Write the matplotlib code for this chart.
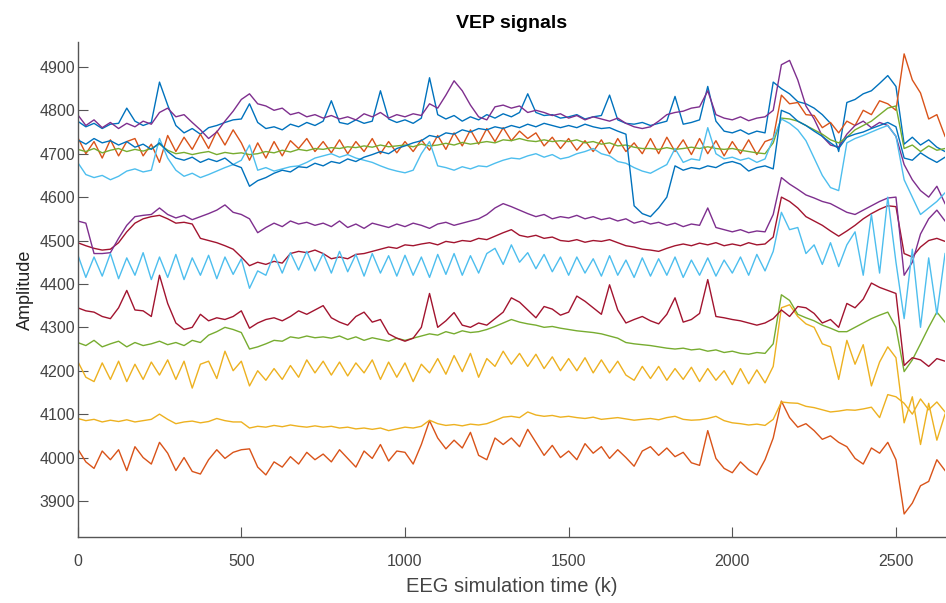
import matplotlib.pyplot as plt
import numpy as np

# sample times (k), every 25 steps from 0 to 2650
t = np.arange(0, 2651, 25)

blue_a = [4775, 4762, 4770, 4758, 4768, 4770, 4805, 4775, 4765, 4772,
          4865, 4812, 4765, 4748, 4758, 4745, 4760, 4765, 4772, 4778,
          4780, 4815, 4772, 4758, 4762, 4755, 4768, 4762, 4772, 4765,
          4775, 4822, 4772, 4768, 4778, 4770, 4775, 4845, 4780, 4772,
          4778, 4770, 4782, 4875, 4790, 4780, 4788, 4775, 4785, 4778,
          4790, 4782, 4792, 4785, 4795, 4838, 4795, 4788, 4790, 4782,
          4785, 4790, 4780, 4785, 4788, 4835, 4778, 4770, 4768, 4772,
          4765, 4770, 4775, 4832, 4768, 4772, 4778, 4855, 4775, 4752,
          4748, 4755, 4745, 4752, 4748, 4865, 4850, 4838, 4820, 4815,
          4805, 4790, 4770, 4705, 4818, 4825, 4838, 4845, 4862, 4880,
          4855, 4722, 4738, 4720, 4732, 4715, 4705]
orange_a = [4738, 4700, 4728, 4690, 4732, 4695, 4728, 4735, 4695, 4722,
            4680, 4742, 4705, 4738, 4710, 4745, 4712, 4752, 4720, 4755,
            4725, 4685, 4725, 4690, 4728, 4695, 4730, 4712, 4735, 4705,
            4728, 4702, 4732, 4700, 4728, 4705, 4735, 4700, 4728, 4702,
            4728, 4705, 4732, 4708, 4742, 4710, 4748, 4718, 4755, 4722,
            4758, 4728, 4760, 4730, 4752, 4735, 4748, 4718, 4738, 4712,
            4735, 4708, 4730, 4705, 4732, 4700, 4735, 4705, 4725, 4700,
            4735, 4700, 4738, 4705, 4732, 4698, 4735, 4700, 4730, 4695,
            4728, 4700, 4732, 4698, 4728, 4735, 4835, 4815, 4818, 4790,
            4788, 4760, 4772, 4748, 4775, 4765, 4800, 4790, 4822, 4815,
            4800, 4930, 4870, 4840, 4780, 4790, 4740]
yellow_a = [4222, 4185, 4175, 4218, 4180, 4222, 4175, 4215, 4180, 4220,
            4190, 4225, 4180, 4222, 4160, 4215, 4222, 4182, 4245, 4200,
            4222, 4165, 4200, 4178, 4205, 4180, 4212, 4185, 4225, 4195,
            4222, 4190, 4220, 4188, 4218, 4195, 4225, 4180, 4220, 4185,
            4218, 4175, 4215, 4195, 4228, 4192, 4235, 4198, 4240, 4185,
            4228, 4210, 4245, 4215, 4240, 4210, 4238, 4205, 4232, 4200,
            4228, 4200, 4230, 4195, 4225, 4195, 4222, 4190, 4178, 4210,
            4182, 4210, 4178, 4205, 4180, 4208, 4175, 4205, 4178, 4200,
            4168, 4205, 4170, 4202, 4172, 4210, 4345, 4352, 4325, 4308,
            4300, 4262, 4255, 4180, 4270, 4215, 4260, 4165, 4220, 4255,
            4230, 4080, 4140, 4030, 4125, 4040, 4100]
purple_a = [4790, 4765, 4778, 4760, 4772, 4758, 4770, 4762, 4775, 4768,
            4795, 4805, 4785, 4790, 4772, 4755, 4735, 4750, 4775, 4798,
            4825, 4838, 4815, 4810, 4800, 4805, 4790, 4795, 4785, 4790,
            4782, 4788, 4780, 4785, 4778, 4792, 4785, 4795, 4782, 4790,
            4785, 4792, 4788, 4815, 4805, 4835, 4868, 4845, 4812, 4785,
            4778, 4808, 4812, 4805, 4810, 4795, 4800, 4795, 4788, 4792,
            4782, 4788, 4778, 4785, 4780, 4775, 4782, 4770, 4762, 4758,
            4762, 4775, 4790, 4795, 4798, 4805, 4808, 4845, 4790, 4782,
            4778, 4785, 4776, 4782, 4785, 4800, 4905, 4915, 4870, 4810,
            4780, 4740, 4720, 4715, 4745, 4765, 4775, 4760, 4772, 4765,
            4740, 4675, 4640, 4615, 4600, 4625, 4585]
green_a = [4710, 4705, 4712, 4702, 4708, 4712, 4705, 4710, 4706, 4712,
           4722, 4708, 4700, 4703, 4698, 4702, 4705, 4698, 4703, 4700,
           4702, 4698, 4700, 4705, 4702, 4708, 4704, 4710, 4707, 4712,
           4710, 4714, 4712, 4716, 4714, 4718, 4715, 4720, 4716, 4718,
           4720, 4716, 4722, 4718, 4720, 4724, 4720, 4726, 4722, 4725,
           4728, 4725, 4732, 4730, 4735, 4730, 4728, 4732, 4728, 4730,
           4728, 4732, 4725, 4728, 4722, 4725, 4718, 4720, 4715, 4712,
           4712, 4710, 4714, 4710, 4712, 4715, 4712, 4716, 4712, 4710,
           4712, 4708, 4705, 4702, 4700, 4725, 4782, 4780, 4775, 4765,
           4755, 4745, 4732, 4725, 4738, 4755, 4765, 4775, 4790, 4805,
           4810, 4712, 4720, 4705, 4718, 4708, 4712]
lightblue_a = [4680, 4652, 4645, 4650, 4640, 4648, 4660, 4665, 4658, 4662,
               4735, 4690, 4662, 4648, 4655, 4645, 4652, 4660, 4668, 4675,
               4685, 4720, 4662, 4668, 4660, 4665, 4670, 4672, 4680, 4690,
               4695, 4700, 4692, 4698, 4690, 4685, 4680, 4672, 4665, 4660,
               4656, 4662, 4700, 4728, 4672, 4668, 4662, 4670, 4665, 4672,
               4670, 4678, 4685, 4690, 4688, 4695, 4700, 4692, 4698, 4688,
               4692, 4700, 4705, 4712, 4700, 4695, 4682, 4678, 4668, 4660,
               4655, 4665, 4675, 4712, 4680, 4688, 4685, 4760, 4700, 4688,
               4692, 4685, 4690, 4680, 4688, 4735, 4780, 4770, 4755, 4730,
               4690, 4650, 4622, 4615, 4725, 4735, 4742, 4750, 4758, 4765,
               4740, 4640, 4600, 4560, 4575, 4590, 4610]
darkred_a = [4495, 4488, 4482, 4478, 4480, 4495, 4520, 4540, 4550, 4555,
             4558, 4550, 4540, 4542, 4538, 4505, 4500, 4495, 4488, 4480,
             4462, 4442, 4450, 4445, 4452, 4448, 4470, 4475, 4472, 4478,
             4470, 4458, 4462, 4458, 4468, 4470, 4475, 4480, 4485, 4482,
             4490, 4488, 4492, 4495, 4490, 4498, 4495, 4500, 4498, 4505,
             4502, 4510, 4518, 4525, 4512, 4508, 4512, 4505, 4508, 4500,
             4498, 4502, 4496, 4500, 4498, 4502, 4495, 4488, 4485, 4480,
             4478, 4475, 4482, 4488, 4492, 4488, 4494, 4490, 4495, 4488,
             4492, 4488, 4495, 4490, 4492, 4508, 4600, 4590, 4575, 4555,
             4545, 4535, 4522, 4510, 4522, 4535, 4550, 4562, 4572, 4580,
             4578, 4470, 4462, 4485, 4500, 4505, 4498]
blue_b = [4732, 4722, 4735, 4725, 4730, 4720, 4728, 4715, 4722, 4710,
          4725, 4705, 4690, 4685, 4692, 4680, 4688, 4682, 4690, 4675,
          4668, 4625, 4638, 4645, 4655, 4662, 4658, 4670, 4668, 4678,
          4672, 4682, 4678, 4688, 4682, 4692, 4698, 4705, 4700, 4712,
          4718, 4725, 4730, 4742, 4738, 4748, 4745, 4755, 4750, 4758,
          4755, 4762, 4758, 4765, 4760, 4768, 4762, 4770, 4765, 4760,
          4765, 4760, 4768, 4762, 4758, 4760, 4752, 4745, 4580, 4562,
          4555, 4575, 4600, 4672, 4662, 4668, 4665, 4672, 4668, 4678,
          4682, 4676, 4660, 4668, 4672, 4665, 4800, 4792, 4775, 4765,
          4752, 4740, 4725, 4712, 4738, 4745, 4750, 4758, 4765, 4772,
          4762, 4690, 4685, 4702, 4690, 4680, 4692]
orange_b = [4020, 3990, 3975, 4015, 3995, 4018, 3970, 4025, 4000, 3985,
            4035, 4010, 3970, 4000, 3968, 3962, 3995, 4018, 3998, 4012,
            4018, 4020, 3978, 3960, 3990, 3978, 4002, 3985, 4012, 3995,
            4008, 3990, 4018, 3998, 3978, 4015, 3998, 4030, 3992, 4015,
            4012, 3985, 4030, 4085, 4045, 4020, 4040, 4022, 4058, 4005,
            3995, 4045, 4030, 4045, 4025, 4065, 4035, 4005, 4028, 4000,
            4015, 3995, 4032, 4010, 4025, 3998, 4018, 4000, 3980, 4015,
            4025, 4005, 4022, 4002, 4012, 3988, 3982, 4062, 3998, 3975,
            3965, 3990, 3972, 3960, 3995, 4045, 4130, 4092, 4070, 4078,
            4062, 4042, 4050, 4035, 4025, 3998, 3985, 4022, 4010, 4035,
            3995, 3870, 3895, 3935, 3945, 3995, 3970]
yellow_b = [4090, 4085, 4088, 4082, 4086, 4083, 4087, 4082, 4085, 4088,
            4100, 4088, 4078, 4082, 4084, 4080, 4083, 4090, 4085, 4082,
            4082, 4068, 4072, 4070, 4074, 4071, 4075, 4072, 4070, 4073,
            4070, 4072, 4068, 4070, 4066, 4068, 4065, 4068, 4062, 4066,
            4070, 4068, 4072, 4086, 4078, 4074, 4076, 4073, 4077, 4075,
            4078, 4085, 4093, 4095, 4092, 4105, 4098, 4095, 4097, 4093,
            4095, 4092, 4090, 4093, 4088, 4090, 4092, 4089, 4086, 4088,
            4090, 4087, 4092, 4095, 4088, 4086, 4087, 4090, 4095, 4085,
            4080, 4078, 4075, 4077, 4074, 4088, 4128, 4126, 4125, 4118,
            4115, 4110, 4105, 4107, 4110, 4109, 4112, 4116, 4092, 4145,
            4140, 4125, 4100, 4135, 4110, 4128, 4105]
purple_b = [4545, 4540, 4470, 4470, 4472, 4505, 4535, 4555, 4558, 4560,
            4575, 4560, 4552, 4558, 4548, 4555, 4562, 4570, 4582, 4565,
            4560, 4550, 4518, 4530, 4540, 4532, 4545, 4538, 4542, 4535,
            4540, 4532, 4545, 4530, 4538, 4528, 4540, 4535, 4530, 4538,
            4532, 4540, 4535, 4528, 4538, 4542, 4535, 4540, 4545, 4550,
            4560, 4575, 4585, 4578, 4570, 4562, 4555, 4560, 4550, 4555,
            4552, 4558, 4550, 4555, 4548, 4552, 4545, 4550, 4540, 4545,
            4538, 4542, 4535, 4540, 4532, 4538, 4535, 4575, 4530, 4525,
            4520, 4525, 4518, 4522, 4520, 4560, 4645, 4630, 4618, 4605,
            4598, 4590, 4585, 4575, 4565, 4560, 4570, 4580, 4590, 4598,
            4600, 4420, 4450, 4515, 4550, 4570, 4545]
green_b = [4265, 4258, 4270, 4255, 4262, 4268, 4255, 4265, 4258, 4262,
           4268, 4260, 4265, 4258, 4270, 4265, 4282, 4290, 4300, 4295,
           4288, 4250, 4255, 4262, 4270, 4268, 4278, 4275, 4280, 4276,
           4278, 4275, 4280, 4272, 4278, 4270, 4276, 4272, 4268, 4275,
           4270, 4275, 4280, 4285, 4282, 4290, 4285, 4292, 4288, 4290,
           4295, 4302, 4310, 4318, 4312, 4308, 4305, 4300, 4302, 4298,
           4295, 4292, 4290, 4288, 4285, 4280, 4275, 4265, 4262, 4260,
           4258, 4255, 4252, 4250, 4252, 4248, 4250, 4245, 4248, 4242,
           4245, 4240, 4238, 4242, 4240, 4262, 4375, 4362, 4330, 4322,
           4315, 4305, 4298, 4290, 4290, 4300, 4310, 4320, 4328, 4335,
           4300, 4198, 4225, 4262, 4300, 4335, 4312]
lightblue_b = [4468, 4415, 4462, 4418, 4470, 4412, 4460, 4420, 4472, 4410,
               4462, 4415, 4468, 4410, 4460, 4420, 4466, 4412, 4462, 4422,
               4458, 4390, 4430, 4420, 4468, 4425, 4472, 4432, 4475, 4430,
               4470, 4425, 4475, 4428, 4468, 4418, 4470, 4425, 4465, 4418,
               4466, 4420, 4462, 4415, 4468, 4422, 4470, 4420, 4465, 4425,
               4470, 4482, 4445, 4490, 4450, 4472, 4435, 4468, 4428, 4462,
               4420, 4462, 4425, 4458, 4418, 4465, 4420, 4455, 4415, 4460,
               4418, 4458, 4420, 4462, 4415, 4455, 4420, 4460, 4418, 4455,
               4425, 4462, 4420, 4468, 4430, 4475, 4565, 4525, 4530, 4470,
               4490, 4445, 4495, 4440, 4490, 4520, 4420, 4560, 4425, 4600,
               4450, 4320, 4480, 4300, 4460, 4330, 4470]
darkred_b = [4345, 4338, 4335, 4325, 4320, 4345, 4385, 4340, 4338, 4325,
             4420, 4355, 4310, 4295, 4300, 4330, 4315, 4322, 4318, 4325,
             4338, 4298, 4310, 4318, 4322, 4315, 4325, 4338, 4330, 4340,
             4350, 4322, 4312, 4305, 4325, 4335, 4312, 4318, 4285, 4275,
             4268, 4275, 4300, 4378, 4300, 4315, 4334, 4305, 4300, 4310,
             4305, 4320, 4335, 4368, 4358, 4340, 4322, 4348, 4342, 4328,
             4335, 4372, 4360, 4345, 4330, 4398, 4340, 4310, 4318, 4325,
             4315, 4308, 4330, 4368, 4312, 4318, 4332, 4410, 4325, 4322,
             4318, 4315, 4310, 4305, 4310, 4320, 4340, 4325, 4348, 4345,
             4332, 4310, 4318, 4300, 4355, 4345, 4365, 4402, 4392, 4385,
             4378, 4212, 4230, 4225, 4210, 4228, 4222]

channels = [blue_a, orange_a, yellow_a, purple_a, green_a, lightblue_a, darkred_a,
            blue_b, orange_b, yellow_b, purple_b, green_b, lightblue_b, darkred_b]
colors = ["#0072BD", "#D95319", "#EDB120", "#7E2F8E", "#77AC30", "#4DBEEE", "#A2142F"]

plt.rcParams["font.family"] = ["Liberation Sans", "DejaVu Sans"]

fig = plt.figure(figsize=(9.46, 6.03), dpi=100)
ax = fig.add_axes([0.0821, 0.1095, 0.9169, 0.8213])

for i, ch in enumerate(channels):
    ax.plot(t, ch, color=colors[i % len(colors)], lw=1.0)

ax.set_xlim(0, 2650)
ax.set_ylim(3817, 4958)
ax.set_xticks([0, 500, 1000, 1500, 2000, 2500])
ax.set_yticks(np.arange(3900, 4901, 100))

for side in ["top", "right"]:
    ax.spines[side].set_visible(False)
for side in ["left", "bottom"]:
    ax.spines[side].set_color("#555555")
    ax.spines[side].set_linewidth(1.0)

ax.tick_params(axis="both", direction="in", length=7, width=0.8,
               colors="#555555", labelcolor="#444444", labelsize=11.5)
ax.tick_params(axis="x", pad=12)
ax.tick_params(axis="y", pad=2)

ax.set_title("VEP signals", fontsize=14, fontweight="bold", pad=10)
ax.set_xlabel("EEG simulation time (k)", fontsize=14.5, color="#444444", labelpad=6)
ax.set_ylabel("Amplitude", fontsize=13, color="#222222", labelpad=4)

fig.savefig("out.png", dpi=100)
